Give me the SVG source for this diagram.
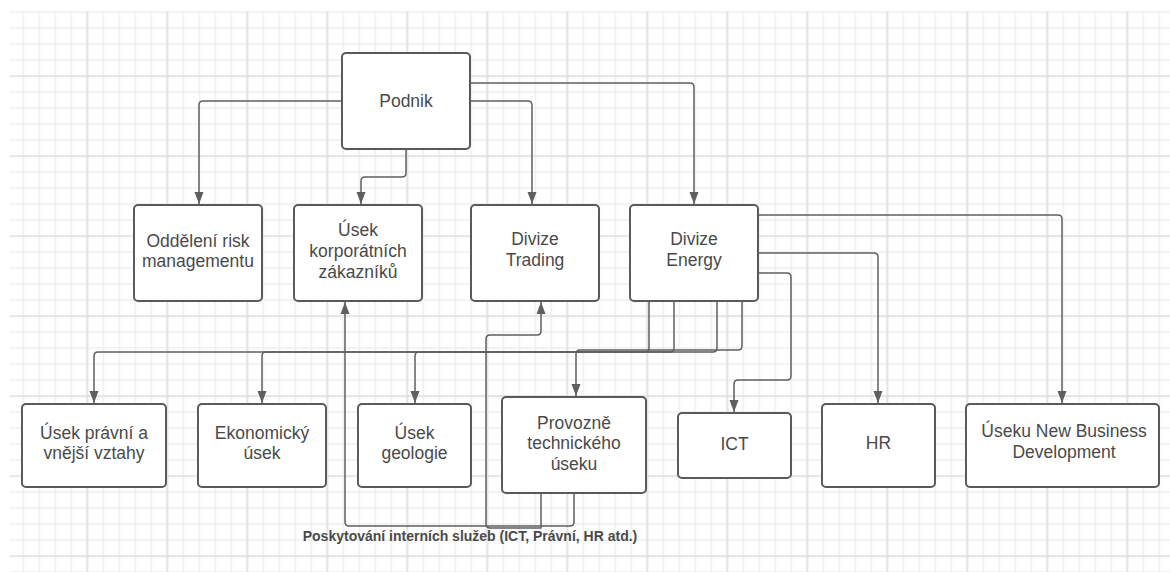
<svg xmlns="http://www.w3.org/2000/svg" width="1170" height="572" viewBox="0 0 1170 572">
<style>
.node rect{fill:#ffffff;stroke:#5a5a5a;stroke-width:2}
.node text{font-family:"Liberation Sans",Arial,sans-serif;font-size:17.5px;fill:#4a4a4a;text-anchor:middle}
.conn path{fill:none;stroke:#5f5f5f;stroke-width:1.5;marker-end:url(#arr)}
.lbl{font-family:"Liberation Sans",Arial,sans-serif;font-size:14px;font-weight:bold;fill:#4a4a4a;text-anchor:middle}
</style>
<defs>
<pattern id="minor" patternUnits="userSpaceOnUse" x="6.5" y="11.25" width="16" height="16">
<rect x="0" y="0" width="1.5" height="16" fill="#eeeeee"/>
<rect x="0" y="0" width="16" height="1.5" fill="#eeeeee"/>
</pattern>
<pattern id="major" patternUnits="userSpaceOnUse" x="6.5" y="-4.75" width="80" height="80">
<rect x="0" y="0" width="1.5" height="80" fill="#e0e0e0"/>
<rect x="0" y="0" width="80" height="1.5" fill="#e0e0e0"/>
</pattern>
<marker id="arr" markerUnits="userSpaceOnUse" markerWidth="12" markerHeight="10" viewBox="0 0 12 10" refX="12" refY="5" orient="auto">
<path d="M0 0.5 L12 5 L0 9.5 z" fill="#5f5f5f"/>
</marker>
</defs>
<rect x="0" y="0" width="1170" height="572" fill="#ffffff"/>
<rect x="10" y="11.25" width="1160" height="561" fill="url(#minor)"/>
<rect x="10" y="11.25" width="1160" height="561" fill="url(#major)"/>

<g id="connectors" class="conn">
<path d="M342 101 H203 Q199 101 199 105 V204"/>
<path d="M406 149 V173 Q406 177 402 177 H365 Q361 177 361 181 V204"/>
<path d="M470 101 H528 Q532 101 532 105 V204"/>
<path d="M470 83 H690 Q694 83 694 87 V204"/>
<path d="M758 215 H1058 Q1062 215 1062 219 V403"/>
<path d="M758 253 H874 Q878 253 878 257 V403"/>
<path d="M758 273 H787 Q791 273 791 277 V376 Q791 380 787 380 H738 Q734 380 734 384 V412"/>
<path d="M649 301 V348 Q649 352 645 352 H98 Q94 352 94 356 V403"/>
<path d="M674 301 V348 Q674 352 670 352 H266 Q262 352 262 356 V403"/>
<path d="M717 301 V348 Q717 352 713 352 H419 Q415 352 415 356 V403"/>
<path d="M742 301 V346 Q742 350 738 350 H580 Q576 350 576 354 V396"/>
<path d="M574 493 V522 Q574 526 570 526 H349 Q345 526 345 522 V302"/>
<path d="M541 493 V528 H490 Q486 528 486 524 V339 Q486 335 490 335 H537 Q541 335 541 331 V302"/>
</g>

<g id="podnik" class="node"><rect x="342" y="53" width="128" height="96" rx="4"/><text x="406" y="107">Podnik</text></g>
<g id="risk" class="node"><rect x="134" y="205" width="128" height="96" rx="4"/><text x="198" y="246.5">Oddělení risk</text><text x="198" y="267">managementu</text></g>
<g id="korporatni" class="node"><rect x="294" y="205" width="128" height="96" rx="4"/><text x="358" y="236">Úsek</text><text x="358" y="257">korporátních</text><text x="358" y="278">zákazníků</text></g>
<g id="trading" class="node"><rect x="471" y="205" width="128" height="96" rx="4"/><text x="535" y="245">Divize</text><text x="535" y="266">Trading</text></g>
<g id="energy" class="node"><rect x="630" y="205" width="128" height="96" rx="4"/><text x="694" y="244.5">Divize</text><text x="694" y="266">Energy</text></g>
<g id="pravni" class="node"><rect x="22" y="404" width="144" height="83" rx="4"/><text x="94" y="438.5">Úsek právní a</text><text x="94" y="459">vnější vztahy</text></g>
<g id="ekonomicky" class="node"><rect x="198" y="404" width="128" height="83" rx="4"/><text x="262" y="438.5">Ekonomický</text><text x="262" y="459">úsek</text></g>
<g id="geologie" class="node"><rect x="358" y="404" width="113" height="83" rx="4"/><text x="414.5" y="438.5">Úsek</text><text x="414.5" y="459">geologie</text></g>
<g id="provozne" class="node"><rect x="502" y="397" width="144" height="96" rx="4"/><text x="574" y="428.5">Provozně</text><text x="574" y="449">technického</text><text x="574" y="470">úseku</text></g>
<g id="ict" class="node"><rect x="678" y="413" width="113" height="65" rx="4"/><text x="734.5" y="449.5">ICT</text></g>
<g id="hr" class="node"><rect x="822" y="404" width="113" height="83" rx="4"/><text x="878.5" y="449">HR</text></g>
<g id="nbd" class="node"><rect x="966" y="404" width="193" height="83" rx="4"/><text x="1064" y="437">Úseku New Business</text><text x="1064" y="458">Development</text></g>

<text class="lbl" x="470" y="541">Poskytování interních služeb (ICT, Právní, HR atd.)</text>
</svg>
